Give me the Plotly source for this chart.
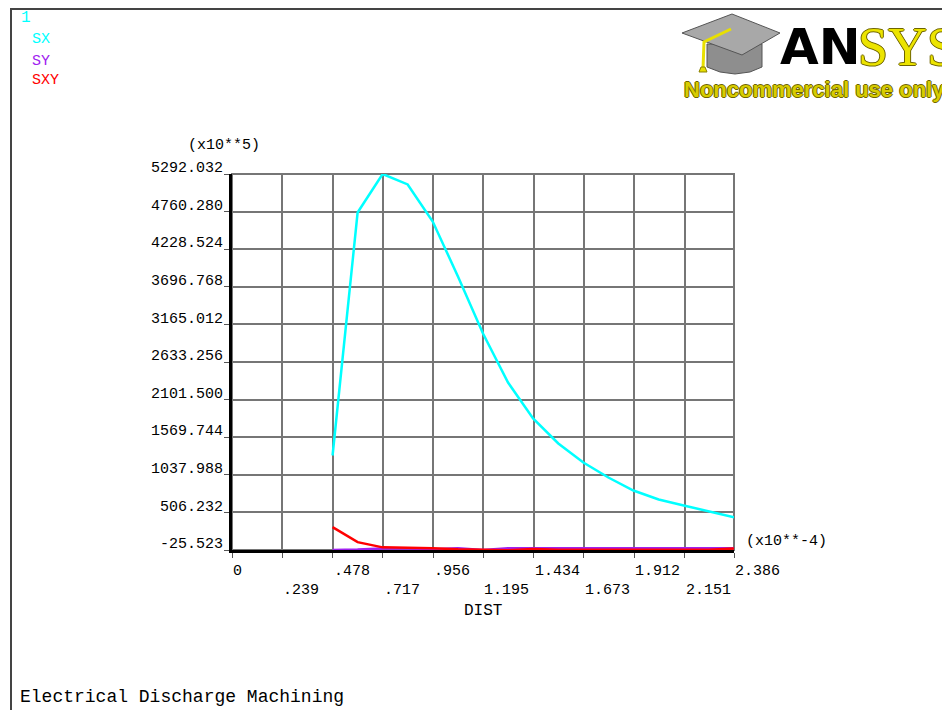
import plotly.graph_objects as go

# Path samples along DIST (x10**-4)
dist = [0.478, 0.597, 0.716, 0.835, 0.954, 1.074, 1.193, 1.312, 1.431,
        1.551, 1.670, 1.789, 1.908, 2.028, 2.147, 2.267, 2.386]

# Stress components (x10**5)
sx = [1311, 4747, 5292.032, 5144, 4620, 3843, 3036, 2343, 1834,
      1481, 1212, 1000, 816, 689, 604, 519, 438]
sy = [-25, -20, -3, -3, -15, 0, -25, 0, -2,
      -2, -2, -2, -2, -2, -2, -2, -2]
sxy = [297, 85, 12, 10, 0, -15, -20, -28, -10,
       -22, -22, -22, -22, -22, -22, -22, -5]

y_labels = ["-25.523", "506.232", "1037.988", "1569.744", "2101.500",
            "2633.256", "3165.012", "3696.768", "4228.524", "4760.280",
            "5292.032"]
x_labels = ["0", ".239", ".478", ".717", ".956", "1.195", "1.434",
            "1.673", "1.912", "2.151", "2.386"]

W, H = 942, 710
L, R, T, B = 232, 734, 174, 550  # plot area in page pixels
MONO = "Liberation Mono, Courier New, monospace"


def px(x):
    return (x - L) / (R - L)


def py(y):
    return (B - y) / (B - T)


def path(points, close=True):
    s = "M " + " L ".join(f"{px(x):.5f},{py(y):.5f}" for x, y in points)
    return s + (" Z" if close else "")


fig = go.Figure()
fig.add_trace(go.Scatter(x=dist, y=sx, mode="lines", name="SX",
                         line=dict(color="#00ffff", width=2.5)))
fig.add_trace(go.Scatter(x=dist, y=sy, mode="lines", name="SY",
                         line=dict(color="#a020f0", width=2.5)))
fig.add_trace(go.Scatter(x=dist, y=sxy, mode="lines", name="SXY",
                         line=dict(color="#ff0000", width=2.5)))

x_vals = [float(v) for v in x_labels]
y_vals = [float(v) for v in y_labels]

fig.update_xaxes(range=[0, 2.386], tickvals=x_vals, showticklabels=False,
                 showgrid=True, gridcolor="#767676", gridwidth=2,
                 zeroline=False, showline=True, linecolor="black",
                 linewidth=3, ticks="outside", ticklen=5, tickcolor="#555")
fig.update_yaxes(range=[-25.523, 5292.032], tickvals=y_vals,
                 ticktext=y_labels, showgrid=True, gridcolor="#767676",
                 gridwidth=2, zeroline=False, showline=True,
                 linecolor="black", linewidth=3, ticks="outside", ticklen=5,
                 tickcolor="#555", ticklabelshift=-7, ticklabelstandoff=-2,
                 tickfont=dict(family=MONO, size=15, color="black"))

shapes = [
    # plot frame
    dict(type="rect", xref="paper", yref="paper", x0=0, y0=0, x1=1, y1=1,
         line=dict(color="#767676", width=2), layer="below"),
    # window border
    dict(type="line", xref="paper", yref="paper", x0=px(10), y0=py(9),
         x1=px(W), y1=py(9), line=dict(color="#444", width=2)),
    dict(type="line", xref="paper", yref="paper", x0=px(11), y0=py(9),
         x1=px(11), y1=py(H), line=dict(color="#444", width=2)),
    # mortarboard: crown
    dict(type="path", xref="paper", yref="paper",
         path=path([(707, 44), (707, 67), (720, 72), (735, 74), (750, 72),
                    (762, 67), (762, 44)]),
         fillcolor="#8e8e8e", line=dict(color="#555", width=1)),
    # mortarboard: board
    dict(type="path", xref="paper", yref="paper",
         path=path([(682, 33), (732, 14), (780, 33), (742, 55)]),
         fillcolor="#a8a8a8", line=dict(color="#555", width=1)),
    # tassel
    dict(type="path", xref="paper", yref="paper",
         path=path([(731, 29), (704, 42), (703, 69)], close=False),
         line=dict(color="#e8e000", width=3)),
    dict(type="path", xref="paper", yref="paper",
         path=path([(699, 72), (707, 72), (705, 67), (701, 67)]),
         fillcolor="#e8e000", line=dict(color="#8a8000", width=1)),
]

outline = "-1px 0 #6e6400, 1px 0 #6e6400, 0 -1px #6e6400, 0 1px #6e6400"
annotations = [
    dict(text="(x10**5)", x=px(224), y=py(146), xanchor="center",
         yanchor="middle", font=dict(family=MONO, size=15, color="black")),
    dict(text="(x10**-4)", x=px(744), y=py(541), xanchor="left",
         yanchor="middle", font=dict(family=MONO, size=15, color="black")),
    dict(text="DIST", x=px(483), y=py(611), xanchor="center",
         yanchor="middle", font=dict(family=MONO, size=16, color="black")),
    dict(text="Electrical Discharge Machining", x=px(18), y=py(697),
         xanchor="left", yanchor="middle",
         font=dict(family=MONO, size=18, color="black")),
    dict(text="1", x=px(19), y=py(18), xanchor="left", yanchor="middle",
         font=dict(family=MONO, size=16, color="#00ffff")),
    dict(text="SX", x=px(30), y=py(40), xanchor="left", yanchor="middle",
         font=dict(family=MONO, size=15, color="#00ffff")),
    dict(text="SY", x=px(30), y=py(61), xanchor="left", yanchor="middle",
         font=dict(family=MONO, size=15, color="#a020f0")),
    dict(text="SXY", x=px(30), y=py(81), xanchor="left", yanchor="middle",
         font=dict(family=MONO, size=15, color="#ff0000")),
    dict(text="<b>AN</b>", x=px(778), y=py(47), xanchor="left",
         yanchor="middle",
         font=dict(family="DejaVu Sans", size=50, color="black")),
    dict(text="SYS", x=px(856), y=py(47), xanchor="left", yanchor="middle",
         font=dict(family="Liberation Serif", size=54, color="#ece400",
                   shadow=outline)),
    dict(text="<b>Noncommercial use only</b>", x=px(682), y=py(89),
         xanchor="left", yanchor="middle",
         font=dict(family="Liberation Sans", size=22, color="#d8cc00",
                   shadow=outline)),
]
for a in annotations:
    a.update(xref="paper", yref="paper")

# DIST tick labels, staggered over two rows and starting at each tick
for i, (v, t) in enumerate(zip(x_vals, x_labels)):
    annotations.append(dict(text=t, x=v, xref="x", xanchor="left",
                            xshift=-1, y=py(571 if i % 2 == 0 else 590),
                            yref="paper", yanchor="middle",
                            font=dict(family=MONO, size=15, color="black")))

for a in annotations:
    a.update(showarrow=False)

fig.update_layout(width=W, height=H, showlegend=False,
                  margin=dict(l=L, r=W - R, t=T, b=H - B, autoexpand=False),
                  paper_bgcolor="white", plot_bgcolor="white",
                  shapes=shapes, annotations=annotations)

fig.write_html("out.html")
